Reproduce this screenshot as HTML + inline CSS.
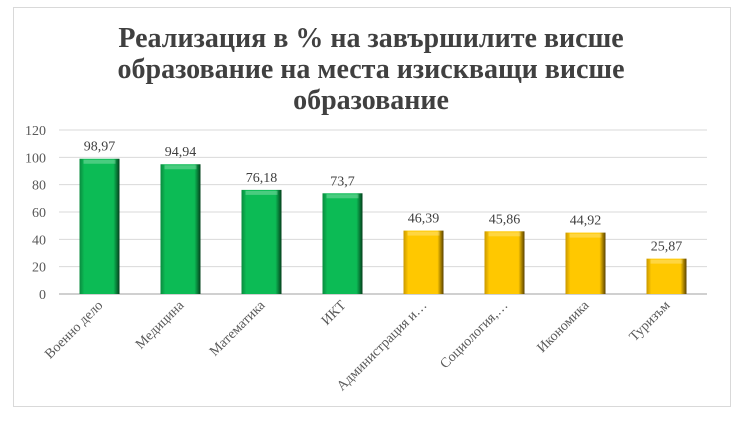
<!DOCTYPE html>
<html><head><meta charset="utf-8"><style>
body{margin:0;background:#fff;}
svg text{font-family:"Liberation Serif",serif;}
</style></head><body>
<svg width="742" height="416">
<defs>
<linearGradient id="g" x1="0" x2="1"><stop offset="0" stop-color="#0a8a3e"/><stop offset="0.12" stop-color="#0cbb55"/><stop offset="0.85" stop-color="#0cbb55"/><stop offset="1" stop-color="#04401c"/></linearGradient>
<linearGradient id="y" x1="0" x2="1"><stop offset="0" stop-color="#c99800"/><stop offset="0.12" stop-color="#ffc800"/><stop offset="0.85" stop-color="#ffc800"/><stop offset="1" stop-color="#5a4200"/></linearGradient>
</defs>
<rect x="13.5" y="7.5" width="717" height="399" fill="#fff" stroke="#d9d9d9"/>
<g font-weight="bold" font-size="28" fill="#404040" text-anchor="middle">
<text x="371" y="47">Реализация в % на завършилите висше</text>
<text x="371" y="78">образование на места изискващи висше</text>
<text x="371" y="109">образование</text>
</g>
<g id="grid"></g><g id="bars"></g><g id="labels"></g>
</svg>
<script>
const categories=["Военно дело","Медицина","Математика","ИКТ","Администрация и…","Социология,…","Икономика","Туризъм"];
const values=[98.97,94.94,76.18,73.7,46.39,45.86,44.92,25.87];
const valueLabels=["98,97","94,94","76,18","73,7","46,39","45,86","44,92","25,87"];
const colors=["g","g","g","g","y","y","y","y"];
const ticks=[0,20,40,60,80,100,120];
const ns="http://www.w3.org/2000/svg";
const x0=59,x1=707,y0=294,yMax=130,vmax=120;
const bw=(x1-x0)/categories.length;
const yS=v=>y0-(y0-yMax)*v/vmax;
function mk(t,a,p){const e=document.createElementNS(ns,t);for(const k in a)e.setAttribute(k,a[k]);p.appendChild(e);return e;}
const grid=document.getElementById('grid'),bars=document.getElementById('bars'),labels=document.getElementById('labels');
ticks.forEach(t=>{
 const l=mk('line',{x1:x0,x2:x1,y1:yS(t),y2:yS(t),stroke:t===0?'#d0d0d0':'#d9d9d9','stroke-width':t===0?2:1},grid);
 
 
 const tx=mk('text',{x:46,y:yS(t)+5,'text-anchor':'end','font-size':14,fill:'#595959'},grid);
 tx.textContent=t;
 
 
});
categories.forEach((c,i)=>{
 const cx=x0+bw*(i+0.5),w=40;
 const r=mk('rect',{x:cx-w/2,y:yS(values[i]),width:w,height:y0-yS(values[i]),fill:'url(#'+colors[i]+')'},bars);
 
 
 const hl=mk('rect',{x:cx-w/2+4,y:yS(values[i])+1,width:w-8,height:4,fill:'#fff',opacity:0.25},bars);
 
 
 const v=mk('text',{x:cx,y:yS(values[i])-8,'text-anchor':'middle','font-size':14,fill:'#404040'},labels);
 v.textContent=valueLabels[i];
 
 
 const t=mk('text',{x:cx+4,y:y0+12,'text-anchor':'end','font-size':14,fill:'#595959',transform:`rotate(-45 ${cx+4} ${y0+12})`},labels);
 t.textContent=c;
 
 
});
</script>
</body></html>
